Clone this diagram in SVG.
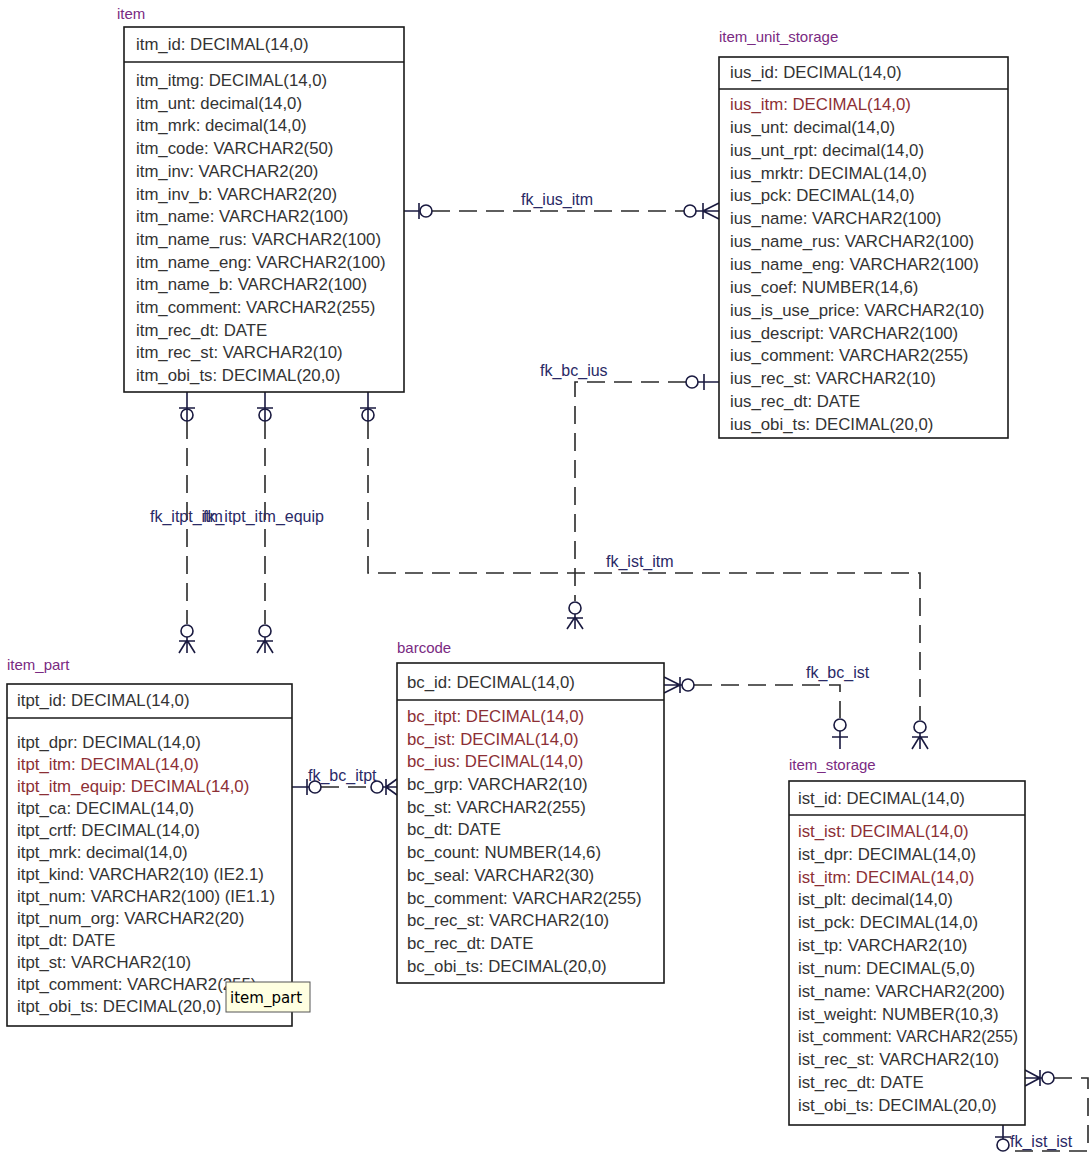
<svg xmlns="http://www.w3.org/2000/svg" width="1092" height="1160" viewBox="0 0 1092 1160">
<style>
.bg{fill:#ffffff}
.box{fill:#ffffff;stroke:#1a1a1a;stroke-width:1.6}
.div{stroke:#1a1a1a;stroke-width:1.6}
.title{font-family:"Liberation Sans",Arial,sans-serif;font-size:15px;fill:#7a2a82}
.row{font-family:"Liberation Sans",Arial,sans-serif;font-size:16.8px;fill:#333333}
.fk{fill:#8c2f35}
.lbl{font-family:"Liberation Sans",Arial,sans-serif;font-size:16px;fill:#2a2a66}
.conn{fill:none;stroke:#2a2a2a;stroke-width:1.6;stroke-dasharray:18 9}
.sym{fill:none;stroke:#1a1a40;stroke-width:1.6}
.tip{fill:#ffffe1;stroke:#555555;stroke-width:1}
.tiptxt{font-family:"DejaVu Sans",Verdana,sans-serif;font-size:15px;fill:#000000}
</style>
<rect class="bg" x="0" y="0" width="1092" height="1160"/>

<g id="connectors">
  <!-- fk_ius_itm -->
  <path class="conn" d="M432,211 H684"/>
  <path class="sym" d="M404,211 H419 M419,203 V219"/>
  <circle class="sym" cx="426" cy="211" r="6"/>
  <circle class="sym" cx="690" cy="211" r="6"/>
  <path class="sym" d="M696,211 H719 M703,203 V219 M703,211 L719,203 M703,211 L719,219"/>
  <text class="lbl" x="521" y="205">fk_ius_itm</text>

  <!-- fk_bc_ius -->
  <path class="conn" d="M686,382 H575 V601"/>
  <path class="sym" d="M719,382 H698 M704,374 V390"/>
  <circle class="sym" cx="692" cy="382" r="6"/>
  <circle class="sym" cx="575" cy="608" r="6"/>
  <path class="sym" d="M575,614 V629 M567,618 H583 M575,617 L567,629 M575,617 L583,629"/>
  <text class="lbl" x="540" y="376">fk_bc_ius</text>

  <!-- fk_ist_itm -->
  <path class="conn" d="M368,421 V573 H920 V720"/>
  <path class="sym" d="M368,392 V421 M360,408 H376"/>
  <circle class="sym" cx="368" cy="415" r="6"/>
  <circle class="sym" cx="920" cy="727" r="6"/>
  <path class="sym" d="M920,733 V749 M912,737 H928 M920,736 L912,749 M920,736 L928,749"/>
  <text class="lbl" x="606" y="567">fk_ist_itm</text>

  <!-- fk_itpt_itm -->
  <path class="conn" d="M187,421 V624"/>
  <path class="sym" d="M187,392 V421 M179,408 H195"/>
  <circle class="sym" cx="187" cy="415" r="6"/>
  <circle class="sym" cx="187" cy="631" r="6"/>
  <path class="sym" d="M187,637 V653 M179,641 H195 M187,640 L179,653 M187,640 L195,653"/>
  <text class="lbl" x="150" y="522">fk_itpt_itm</text>

  <!-- fk_itpt_itm_equip -->
  <path class="conn" d="M265,421 V624"/>
  <path class="sym" d="M265,392 V421 M257,408 H273"/>
  <circle class="sym" cx="265" cy="415" r="6"/>
  <circle class="sym" cx="265" cy="631" r="6"/>
  <path class="sym" d="M265,637 V653 M257,641 H273 M265,640 L257,653 M265,640 L273,653"/>
  <text class="lbl" x="203" y="522">fk_itpt_itm_equip</text>

  <!-- fk_bc_itpt -->
  <path class="conn" d="M321,787 H371"/>
  <path class="sym" d="M292,787 H309 M307,779 V795"/>
  <circle class="sym" cx="315" cy="787" r="6"/>
  <circle class="sym" cx="377" cy="787" r="6"/>
  <path class="sym" d="M383,787 H397 M386,779 V795 M386,787 L397,779 M386,787 L397,795"/>
  <text class="lbl" x="308" y="781">fk_bc_itpt</text>

  <!-- fk_bc_ist -->
  <path class="conn" d="M694,685 H840 V718"/>
  <path class="sym" d="M664,685 H682 M680,677 V693 M680,685 L664,677 M680,685 L664,693"/>
  <circle class="sym" cx="688" cy="685" r="6"/>
  <circle class="sym" cx="840" cy="725" r="6"/>
  <path class="sym" d="M840,731 V749 M832,737 H848"/>
  <text class="lbl" x="806" y="678">fk_bc_ist</text>

  <!-- fk_ist_ist -->
  <path class="conn" d="M1054,1078 H1088 V1151 H1009"/>
  <path class="sym" d="M1025,1078 H1042 M1040,1070 V1086 M1040,1078 L1025,1070 M1040,1078 L1025,1086"/>
  <circle class="sym" cx="1048" cy="1078" r="6"/>
  <path class="sym" d="M1003,1125 V1139 M995,1137 H1011"/>
  <circle class="sym" cx="1003" cy="1145" r="6"/>
  <text class="lbl" x="1010" y="1147">fk_ist_ist</text>
</g>

<g id="item">
  <text class="title" x="117" y="19">item</text>
  <rect class="box" x="124" y="27" width="280" height="365"/>
  <line class="div" x1="124" y1="62" x2="404" y2="62"/>
  <text class="row" x="136" y="50">itm_id: DECIMAL(14,0)</text>
  <text class="row" x="136" y="86">itm_itmg: DECIMAL(14,0)</text>
  <text class="row" x="136" y="109">itm_unt: decimal(14,0)</text>
  <text class="row" x="136" y="131">itm_mrk: decimal(14,0)</text>
  <text class="row" x="136" y="154">itm_code: VARCHAR2(50)</text>
  <text class="row" x="136" y="177">itm_inv: VARCHAR2(20)</text>
  <text class="row" x="136" y="200">itm_inv_b: VARCHAR2(20)</text>
  <text class="row" x="136" y="222">itm_name: VARCHAR2(100)</text>
  <text class="row" x="136" y="245">itm_name_rus: VARCHAR2(100)</text>
  <text class="row" x="136" y="268">itm_name_eng: VARCHAR2(100)</text>
  <text class="row" x="136" y="290">itm_name_b: VARCHAR2(100)</text>
  <text class="row" x="136" y="313">itm_comment: VARCHAR2(255)</text>
  <text class="row" x="136" y="336">itm_rec_dt: DATE</text>
  <text class="row" x="136" y="358">itm_rec_st: VARCHAR2(10)</text>
  <text class="row" x="136" y="381">itm_obi_ts: DECIMAL(20,0)</text>
</g>

<g id="item_unit_storage">
  <text class="title" x="719" y="42">item_unit_storage</text>
  <rect class="box" x="719" y="57" width="289" height="381"/>
  <line class="div" x1="719" y1="89" x2="1008" y2="89"/>
  <text class="row" x="730" y="78">ius_id: DECIMAL(14,0)</text>
  <text class="row fk" x="730" y="110">ius_itm: DECIMAL(14,0)</text>
  <text class="row" x="730" y="133">ius_unt: decimal(14,0)</text>
  <text class="row" x="730" y="156">ius_unt_rpt: decimal(14,0)</text>
  <text class="row" x="730" y="179">ius_mrktr: DECIMAL(14,0)</text>
  <text class="row" x="730" y="201">ius_pck: DECIMAL(14,0)</text>
  <text class="row" x="730" y="224">ius_name: VARCHAR2(100)</text>
  <text class="row" x="730" y="247">ius_name_rus: VARCHAR2(100)</text>
  <text class="row" x="730" y="270">ius_name_eng: VARCHAR2(100)</text>
  <text class="row" x="730" y="293">ius_coef: NUMBER(14,6)</text>
  <text class="row" x="730" y="316">ius_is_use_price: VARCHAR2(10)</text>
  <text class="row" x="730" y="339">ius_descript: VARCHAR2(100)</text>
  <text class="row" x="730" y="361">ius_comment: VARCHAR2(255)</text>
  <text class="row" x="730" y="384">ius_rec_st: VARCHAR2(10)</text>
  <text class="row" x="730" y="407">ius_rec_dt: DATE</text>
  <text class="row" x="730" y="430">ius_obi_ts: DECIMAL(20,0)</text>
</g>

<g id="item_part">
  <text class="title" x="7" y="670">item_part</text>
  <rect class="box" x="7" y="684" width="285" height="342"/>
  <line class="div" x1="7" y1="718" x2="292" y2="718"/>
  <text class="row" x="17" y="706">itpt_id: DECIMAL(14,0)</text>
  <text class="row" x="17" y="748">itpt_dpr: DECIMAL(14,0)</text>
  <text class="row fk" x="17" y="770">itpt_itm: DECIMAL(14,0)</text>
  <text class="row fk" x="17" y="792">itpt_itm_equip: DECIMAL(14,0)</text>
  <text class="row" x="17" y="814">itpt_ca: DECIMAL(14,0)</text>
  <text class="row" x="17" y="836">itpt_crtf: DECIMAL(14,0)</text>
  <text class="row" x="17" y="858">itpt_mrk: decimal(14,0)</text>
  <text class="row" x="17" y="880">itpt_kind: VARCHAR2(10) (IE2.1)</text>
  <text class="row" x="17" y="902">itpt_num: VARCHAR2(100) (IE1.1)</text>
  <text class="row" x="17" y="924">itpt_num_org: VARCHAR2(20)</text>
  <text class="row" x="17" y="946">itpt_dt: DATE</text>
  <text class="row" x="17" y="968">itpt_st: VARCHAR2(10)</text>
  <text class="row" x="17" y="990">itpt_comment: VARCHAR2(255)</text>
  <text class="row" x="17" y="1012">itpt_obi_ts: DECIMAL(20,0)</text>
</g>

<g id="barcode">
  <text class="title" x="397" y="653">barcode</text>
  <rect class="box" x="397" y="663" width="267" height="320"/>
  <line class="div" x1="397" y1="700" x2="664" y2="700"/>
  <text class="row" x="407" y="688">bc_id: DECIMAL(14,0)</text>
  <text class="row fk" x="407" y="722">bc_itpt: DECIMAL(14,0)</text>
  <text class="row fk" x="407" y="745">bc_ist: DECIMAL(14,0)</text>
  <text class="row fk" x="407" y="767">bc_ius: DECIMAL(14,0)</text>
  <text class="row" x="407" y="790">bc_grp: VARCHAR2(10)</text>
  <text class="row" x="407" y="813">bc_st: VARCHAR2(255)</text>
  <text class="row" x="407" y="835">bc_dt: DATE</text>
  <text class="row" x="407" y="858">bc_count: NUMBER(14,6)</text>
  <text class="row" x="407" y="881">bc_seal: VARCHAR2(30)</text>
  <text class="row" x="407" y="904">bc_comment: VARCHAR2(255)</text>
  <text class="row" x="407" y="926">bc_rec_st: VARCHAR2(10)</text>
  <text class="row" x="407" y="949">bc_rec_dt: DATE</text>
  <text class="row" x="407" y="972">bc_obi_ts: DECIMAL(20,0)</text>
</g>

<g id="item_storage">
  <text class="title" x="789" y="770">item_storage</text>
  <rect class="box" x="789" y="781" width="236" height="344"/>
  <line class="div" x1="789" y1="815" x2="1025" y2="815"/>
  <text class="row" x="798" y="804">ist_id: DECIMAL(14,0)</text>
  <text class="row fk" x="798" y="837">ist_ist: DECIMAL(14,0)</text>
  <text class="row" x="798" y="860">ist_dpr: DECIMAL(14,0)</text>
  <text class="row fk" x="798" y="883">ist_itm: DECIMAL(14,0)</text>
  <text class="row" x="798" y="905">ist_plt: decimal(14,0)</text>
  <text class="row" x="798" y="928">ist_pck: DECIMAL(14,0)</text>
  <text class="row" x="798" y="951">ist_tp: VARCHAR2(10)</text>
  <text class="row" x="798" y="974">ist_num: DECIMAL(5,0)</text>
  <text class="row" x="798" y="997">ist_name: VARCHAR2(200)</text>
  <text class="row" x="798" y="1020">ist_weight: NUMBER(10,3)</text>
  <text class="row" x="798" y="1042" textLength="220" lengthAdjust="spacingAndGlyphs">ist_comment: VARCHAR2(255)</text>
  <text class="row" x="798" y="1065">ist_rec_st: VARCHAR2(10)</text>
  <text class="row" x="798" y="1088">ist_rec_dt: DATE</text>
  <text class="row" x="798" y="1111">ist_obi_ts: DECIMAL(20,0)</text>
</g>

<g id="tooltip">
  <rect class="tip" x="226" y="982" width="84" height="30"/>
  <text class="tiptxt" x="230" y="1003">item_part</text>
</g>
</svg>
